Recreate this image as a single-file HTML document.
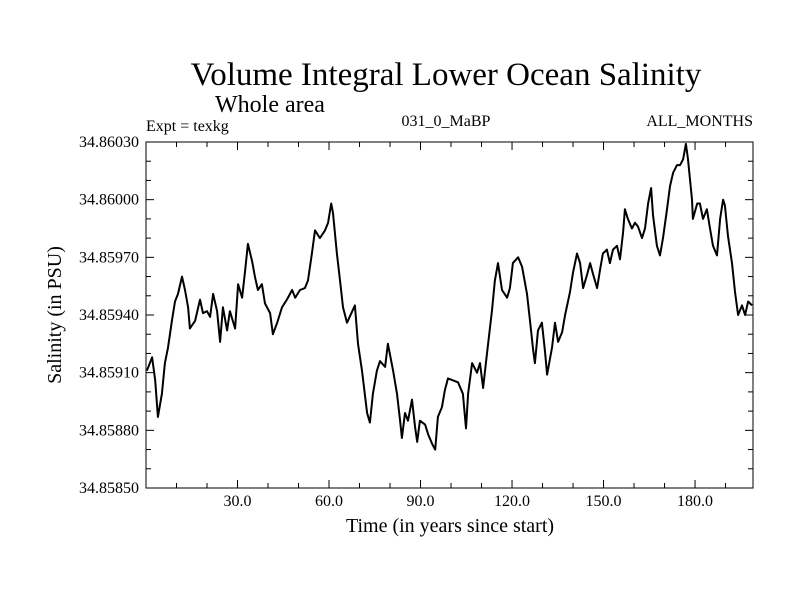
<!DOCTYPE html>
<html><head><meta charset="utf-8"><style>
html,body{margin:0;padding:0;background:#fff;}
svg text{font-family:"Liberation Serif",serif;fill:#000;}
</style></head><body>
<svg id="chart" width="800" height="600" viewBox="0 0 800 600" xmlns="http://www.w3.org/2000/svg">
<rect width="800" height="600" fill="#fff"/>
<text x="446" y="85" font-size="33" text-anchor="middle">Volume Integral Lower Ocean Salinity</text>
<text x="270" y="112" font-size="24" text-anchor="middle">Whole area</text>
<text x="146" y="131" font-size="16">Expt = texkg</text>
<text x="446" y="126" font-size="16" text-anchor="middle">031_0_MaBP</text>
<text x="753" y="126" font-size="16" text-anchor="end">ALL_MONTHS</text>
<text transform="translate(61,315) rotate(-90)" font-size="20" text-anchor="middle">Salinity (in PSU)</text>
<text x="450" y="532" font-size="20" text-anchor="middle">Time (in years since start)</text>
<g id="axes"></g>
<g id="series"></g>
<rect x="146" y="142" width="607" height="346" fill="none" stroke="#000" stroke-width="1"/>
</svg>
<script>
const years=[0.3,2.0,3.0,3.9,5.2,6.2,7.2,8.5,9.5,10.5,11.8,12.8,13.8,14.4,16.1,17.7,18.7,20.0,21.0,22.0,23.3,24.3,25.2,26.6,27.5,29.2,30.2,31.5,32.5,33.4,34.8,35.7,36.7,38.0,39.0,40.7,41.6,43.0,44.6,46.2,47.9,48.9,50.5,52.1,53.1,54.4,55.4,57.0,58.7,59.7,60.7,61.3,62.6,63.6,64.6,65.9,66.2,68.5,69.5,70.8,72.5,73.4,74.4,75.7,76.7,78.4,79.3,81.0,82.3,83.3,83.9,84.9,85.9,87.2,88.2,88.9,89.8,91.5,92.5,93.8,94.8,95.7,97.0,98.0,99.0,100.7,102.3,103.9,104.9,105.6,106.9,108.5,109.5,110.5,111.8,113.4,114.4,115.4,116.7,118.4,119.3,120.3,122.0,123.3,124.9,125.9,126.9,127.5,128.5,129.8,130.8,131.5,133.1,134.1,135.1,136.4,137.4,139.0,140.0,141.3,142.3,143.3,144.6,145.6,146.6,147.9,148.9,149.8,151.1,152.1,153.1,154.4,155.4,156.4,157.0,158.0,159.3,160.3,161.3,162.6,163.6,164.6,165.6,166.2,167.5,168.5,169.5,170.8,171.8,172.8,174.1,175.1,176.1,177.0,177.7,179.0,179.3,180.7,181.6,182.6,183.9,184.9,185.9,187.2,188.2,189.2,189.8,190.8,192.1,193.1,194.1,195.4,196.4,197.4,198.7];
const salinity=[34.85911,34.85918,34.85906,34.85887,34.85899,34.85915,34.85923,34.85937,34.85947,34.85951,34.85960,34.85953,34.85944,34.85933,34.85937,34.85948,34.85941,34.85942,34.85939,34.85951,34.85942,34.85926,34.85944,34.85932,34.85942,34.85933,34.85956,34.85949,34.85963,34.85977,34.85968,34.85960,34.85953,34.85956,34.85946,34.85941,34.85930,34.85936,34.85944,34.85948,34.85953,34.85949,34.85953,34.85954,34.85958,34.85972,34.85984,34.85980,34.85984,34.85988,34.85998,34.85993,34.85972,34.85958,34.85944,34.85936,34.85937,34.85945,34.85925,34.85911,34.85889,34.85884,34.85899,34.85911,34.85916,34.85913,34.85925,34.85911,34.85899,34.85885,34.85876,34.85889,34.85885,34.85896,34.85882,34.85874,34.85885,34.85883,34.85878,34.85873,34.85870,34.85887,34.85892,34.85901,34.85907,34.85906,34.85905,34.85899,34.85881,34.85899,34.85915,34.85910,34.85915,34.85902,34.85920,34.85942,34.85958,34.85967,34.85953,34.85949,34.85954,34.85967,34.85970,34.85965,34.85951,34.85937,34.85922,34.85915,34.85932,34.85936,34.85921,34.85909,34.85923,34.85936,34.85926,34.85931,34.85940,34.85952,34.85962,34.85972,34.85967,34.85954,34.85961,34.85967,34.85961,34.85954,34.85964,34.85972,34.85974,34.85967,34.85974,34.85976,34.85969,34.85983,34.85995,34.85990,34.85985,34.85988,34.85986,34.85980,34.85985,34.85998,34.86006,34.85992,34.85976,34.85971,34.85980,34.85995,34.86007,34.86014,34.86018,34.86018,34.86021,34.86029,34.86021,34.86000,34.85990,34.85998,34.85998,34.85990,34.85995,34.85985,34.85976,34.85971,34.85990,34.86000,34.85997,34.85981,34.85967,34.85952,34.85940,34.85945,34.85940,34.85947,34.85945];
const yTickLabels=["34.85850","34.85880","34.85910","34.85940","34.85970","34.86000","34.86030"];
const xTickLabels=["30.0","60.0","90.0","120.0","150.0","180.0"];
const xMin=0,xMax=199,yMin=34.8585,yMax=34.8603;
const L=146,R=753,T=142,B=488;
const sx=v=>L+(v-xMin)/(xMax-xMin)*(R-L);
const sy=v=>B-(v-yMin)/(yMax-yMin)*(B-T);
const NS="http://www.w3.org/2000/svg";
const axes=document.getElementById('axes');
function mk(tag,attrs,parent){const e=document.createElementNS(NS,tag);for(const k in attrs)e.setAttribute(k,attrs[k]);parent.appendChild(e);return e;}
for(let i=0;i<=18;i++){
  const v=yMin+i*0.0001, y=sy(v), major=i%3===0, len=major?8:5;
  const t1=mk('line',{x1:L,x2:L+len,y1:y,y2:y,stroke:'#000'},axes);
  
  
  const t2=mk('line',{x1:R,x2:R-len,y1:y,y2:y,stroke:'#000'},axes);
  
  
}
yTickLabels.forEach(s=>{
  const t=mk('text',{x:L-7,y:sy(parseFloat(s))+5,'font-size':16,'text-anchor':'end'},axes);
  t.textContent=s;
  
  
});
for(let v=10;v<xMax;v+=10){
  const x=sx(v), major=v%30===0, len=major?8:5;
  const t1=mk('line',{x1:x,x2:x,y1:B,y2:B-len,stroke:'#000'},axes);
  
  
  const t2=mk('line',{x1:x,x2:x,y1:T,y2:T+len,stroke:'#000'},axes);
  
  
}
xTickLabels.forEach(s=>{
  const t=mk('text',{x:sx(parseFloat(s)),y:B+18,'font-size':16,'text-anchor':'middle'},axes);
  t.textContent=s;
  
  
});
const d=years.map((yr,i)=>(i?'L':'M')+sx(yr).toFixed(1)+','+sy(salinity[i]).toFixed(1)).join('');
const p=mk('path',{d:d,fill:'none',stroke:'#000','stroke-width':2,'stroke-linejoin':'round'},document.getElementById('series'));


</script>
</body></html>
